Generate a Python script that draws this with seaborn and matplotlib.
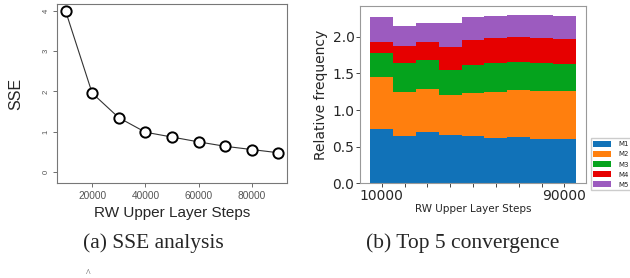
"""
SSE elbow curve and top-5 convergence stacked bars
"""
import matplotlib
matplotlib.use("Agg")
import matplotlib.pyplot as plt
import seaborn as sns
import numpy as np
import pandas as pd

sns.set_style("white")

# Data
steps = [10000, 20000, 30000, 40000, 50000, 60000, 70000, 80000, 90000]
sse = [4.0, 1.96, 1.35, 0.99, 0.87, 0.75, 0.64, 0.56, 0.48]

models = ["M1", "M2", "M3", "M4", "M5"]
m1 = [0.736, 0.645, 0.695, 0.659, 0.650, 0.623, 0.632, 0.609, 0.600]
m2 = [0.709, 0.596, 0.596, 0.546, 0.586, 0.622, 0.641, 0.650, 0.659]
m3 = [0.328, 0.395, 0.386, 0.345, 0.378, 0.391, 0.382, 0.377, 0.368]
m4 = [0.150, 0.237, 0.250, 0.309, 0.341, 0.341, 0.336, 0.341, 0.341]
m5 = [0.350, 0.272, 0.255, 0.327, 0.318, 0.305, 0.309, 0.318, 0.314]
colors = ["#1172b8", "#ff7f0e", "#05a31d", "#e60000", "#9c5bbf"]

fig = plt.figure(figsize=(6.3, 2.78), dpi=100)

# (a) SSE analysis -- R-like style
ax1 = fig.add_axes([0.0905, 0.3417, 0.365, 0.644])
df_sse = pd.DataFrame({"steps": steps, "sse": sse})
sns.lineplot(data=df_sse, x="steps", y="sse", ax=ax1, color="#333333", lw=0.8)
sns.scatterplot(data=df_sse, x="steps", y="sse", ax=ax1, s=55, facecolor="white",
                edgecolor="black", linewidth=1.4, zorder=3)
ax1.set_xlim(6800, 93200)
ax1.set_ylim(-0.27, 4.17)
ax1.set_xticks([20000, 40000, 60000, 80000])
ax1.set_xticklabels(["20000", "40000", "60000", "80000"], fontsize=7.3, color="#555555",
                    family="Liberation Sans")
ax1.set_yticks([0, 1, 2, 3, 4])
ax1.set_yticklabels(["0", "1", "2", "3", "4"], fontsize=5.5, rotation=90, va="center",
                    color="#555555", family="Liberation Sans")
ax1.tick_params(axis="both", direction="out", length=3, width=0.6, color="#555555",
                bottom=True, left=True, pad=2.5)
for s in ax1.spines.values():
    s.set_color("#777777")
    s.set_linewidth(0.8)
ax1.set_xlabel("RW Upper Layer Steps", fontsize=11, family="Liberation Sans", labelpad=4)
ax1.set_ylabel("SSE", fontsize=11.5, family="Liberation Sans", labelpad=14)

# (b) Top 5 convergence -- stacked bars
ax2 = fig.add_axes([0.5714, 0.3406, 0.3588, 0.6378])
layers = np.array([m1, m2, m3, m4, m5])
tops = np.cumsum(layers, axis=0)
labels = [str(s) for s in steps]
# draw tallest first so the lower layers sit on top of it
for i in range(len(models) - 1, -1, -1):
    sns.barplot(x=labels, y=tops[i], ax=ax2, color=colors[i], width=1.0,
                saturation=1, linewidth=0, label=models[i])
ax2.set_xlim(-0.95, 8.95)
ax2.set_ylim(0, 2.42)
ax2.set_xticks(range(len(steps)))
ax2.set_xticklabels([labels[0]] + [""] * 7 + [labels[-1]], fontsize=10)
ax2.set_yticks([0, 0.5, 1.0, 1.5, 2.0])
ax2.set_yticklabels(["0.0", "0.5", "1.0", "1.5", "2.0"], fontsize=10)
ax2.tick_params(axis="both", direction="out", length=3, width=0.6, bottom=True,
                left=True, pad=1)
for s in ax2.spines.values():
    s.set_color("#999999")
    s.set_linewidth(0.8)
ax2.set_xlabel("RW Upper Layer Steps", fontsize=7.5, labelpad=1)
ax2.set_ylabel("Relative frequency", fontsize=10, labelpad=3)
handles, hl = ax2.get_legend_handles_labels()
order = [hl.index(m) for m in models]
ax2.legend([handles[k] for k in order], models, loc="lower left",
           bbox_to_anchor=(1.005, -0.06), fontsize=5, frameon=True, framealpha=1,
           edgecolor="#cccccc", fancybox=False, handlelength=2.6, handleheight=0.9,
           labelspacing=0.55, borderpad=0.4, handletextpad=1.0)

# captions
fig.text(0.243, 0.126, "(a) SSE analysis", fontsize=15.5, family="Liberation Serif",
         ha="center", va="center")
fig.text(0.735, 0.126, "(b) Top 5 convergence", fontsize=15.5, family="Liberation Serif",
         ha="center", va="center")
fig.text(0.14, 0.015, "^", fontsize=7, family="Liberation Serif", ha="center",
         va="center", color="#555555")

fig.savefig("out.png", dpi=100)
